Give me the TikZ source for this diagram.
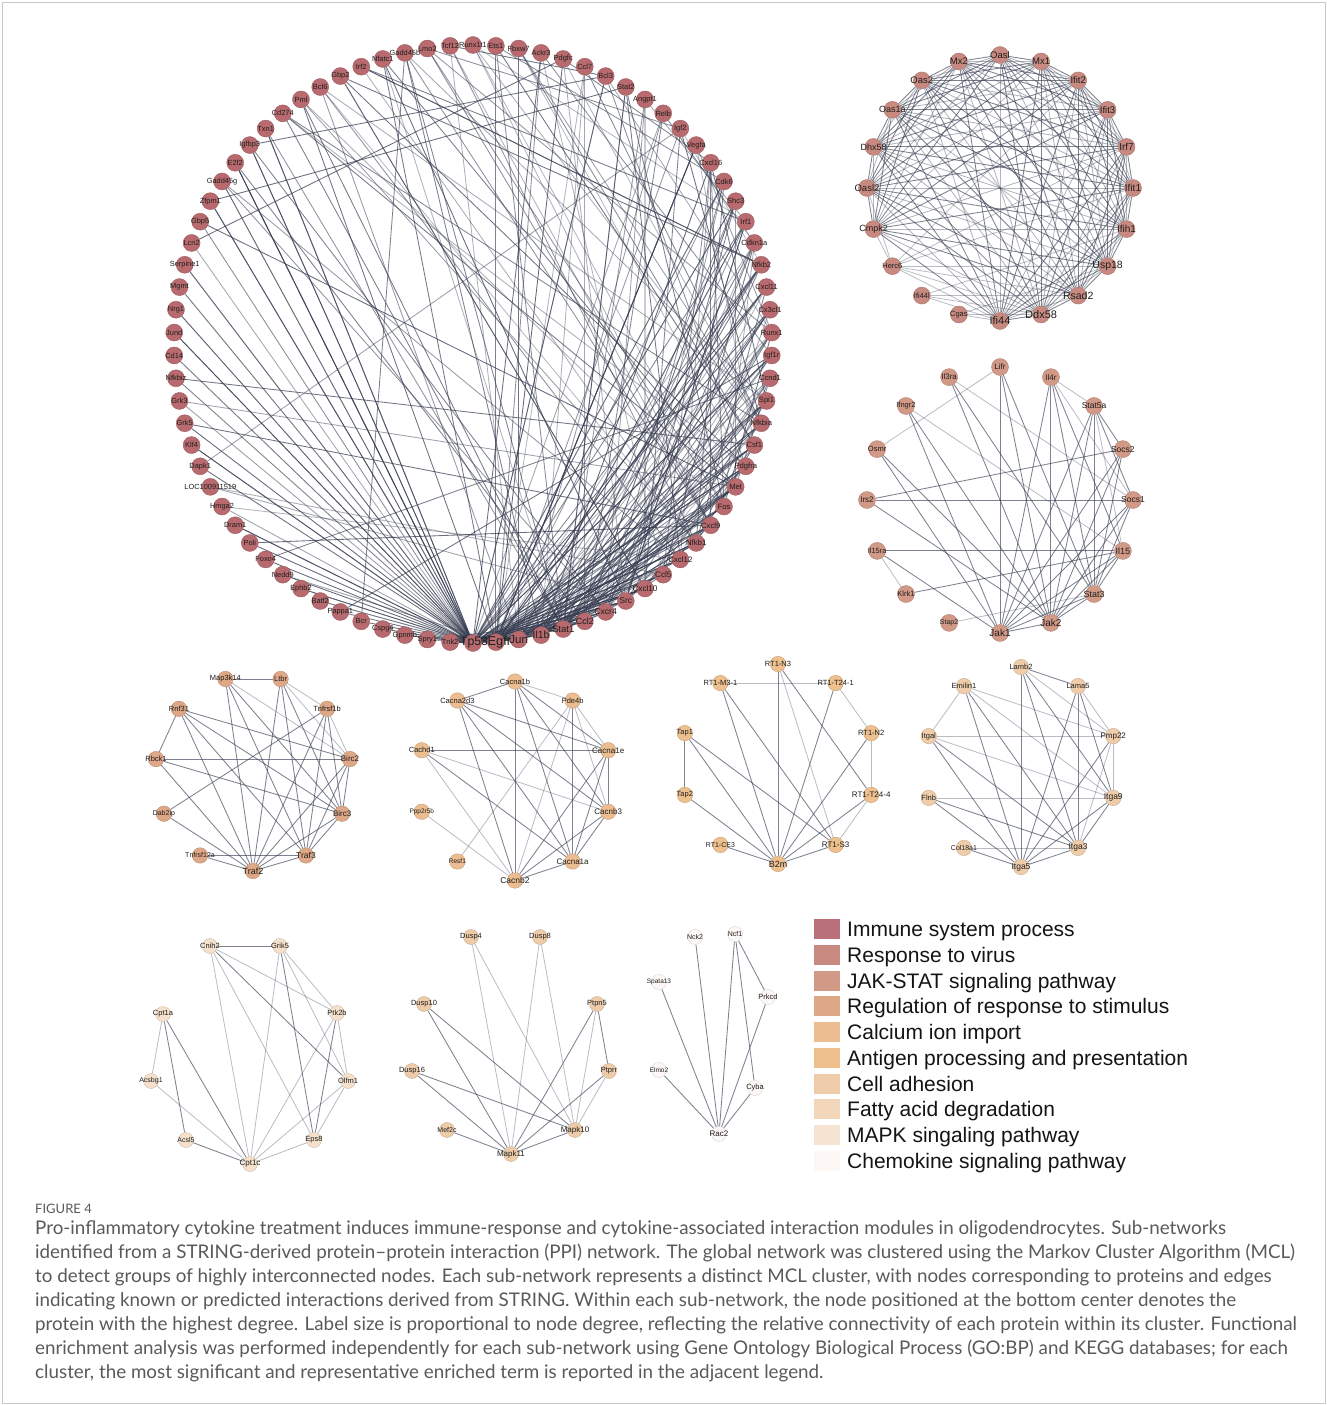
\documentclass[tikz,border=0pt]{standalone}
\usepackage{fontspec}
\setmainfont{Liberation Sans}
\newfontfamily\labf{Liberation Sans}
\newfontfamily\capf{Lato}
\pgfdeclarelayer{bgl}
\pgfdeclarelayer{edges}
\pgfsetlayers{bgl,edges,main}
\definecolor{c1}{RGB}{185,112,122}
\definecolor{c2}{RGB}{200,138,128}
\definecolor{c3}{RGB}{210,153,134}
\definecolor{c4}{RGB}{222,167,134}
\definecolor{c5}{RGB}{236,189,144}
\definecolor{c6}{RGB}{238,192,142}
\definecolor{c7}{RGB}{240,205,170}
\definecolor{c8}{RGB}{243,215,186}
\definecolor{c9}{RGB}{246,228,210}
\definecolor{c10}{RGB}{253,248,245}
\definecolor{nbig}{RGB}{184,106,110}
\definecolor{nfat}{RGB}{245,224,204}
\definecolor{nmapk}{RGB}{238,204,170}
\definecolor{edgec}{RGB}{58,64,84}
\definecolor{capc}{RGB}{90,90,90}
\definecolor{framec}{RGB}{200,200,200}
\begin{document}
\begin{tikzpicture}[x=1pt,y=-1pt,
  nd/.style={circle, fill=#1, draw=#1!82!black, line width=0.35pt, inner sep=0pt},
  lab/.style={text=black!88, inner sep=0pt},
  edge/.style={draw=edgec, line width=0.85pt, draw opacity=0.65},
  ledge/.style={draw=edgec, line width=0.8pt, draw opacity=0.35},
  legtext/.style={anchor=base west, font=\labf\fontsize{21}{21}\selectfont, text=black!92, inner sep=0pt},
  capline/.style={anchor=base west, font=\capf\fontsize{18.8}{18.8}\selectfont, text=capc, inner sep=0pt}
]
\useasboundingbox (0,0) rectangle (1327,1405);
\begin{pgfonlayer}{bgl}
\fill[white] (0,0) rectangle (1327,1405);
\end{pgfonlayer}
\draw[framec, line width=0.8pt] (2.5,2.5) rectangle (1325,1403);

% ---------------- big network (Immune system process) ----------------
\foreach \g [count=\ii from 0] in {Lmo2,Tcf12,Runx1t1,Ets1,Fbxw7,Ackr3,Pdgfc,Ccl7,Bcl3,Stat2,Angpt1,Relb,Igf2,Vegfa,Cxcl16,Cdk6,Shc3,Irf1,Cdkn1a,Nfkb2,Cxcl11,Cx3cl1,Runx1,Igf1r,Ccnd1,Spi1,Nfkbia,Csf1,Pdgfra,Met,Fos,Cxcl9,Nfkb1,Cxcl12,Ccl5,Cxcl10,Src,Cxcr4,Ccl2,Stat1,Il1b,Jun,Egfr,Tp53,Tnk2,Spry1,Gpnmb,Cspg4,Bcr,Pappa1,Batf2,Ephb2,Nedd9,Foxo4,Poli,Dram1,Hmga2,LOC100911519,Dapk1,Klf4,Grk5,Grk3,Nfkbiz,Cd14,Jund,Nrg1,Mgmt,Serpine1,Lcn2,Gbp5,Zfpm1,Gadd45g,E2f2,Igfbp3,Txn1,Cd274,Pml,Bcl6,Gbp2,Irf2,Nfatc1,Gadd45b}{
  \pgfmathsetmacro\ang{-90+(\ii-2)*4.3902439}
  \pgfmathtruncatemacro\rk{mod(125-\ii,82)}
  \pgfmathsetmacro\fs{\rk==0 ? 12.2 : 7.4+6.0*9/(9+\rk*\rk)}
  \pgfmathsetmacro\xs{\rk==0 ? 1 : (\rk==1 ? 3.5 : 0)}
  \node[nd=nbig, minimum size=17, label={[lab, xshift=\xs, font=\labf\fontsize{\fs}{\fs}\selectfont]center:\g}] (b\rk) at ({473+299*cos(\ang)},{344+299*sin(\ang)}) {};
}
\begin{pgfonlayer}{edges}
\pgfmathsetseed{2024}
\foreach \rk in {1,...,81}{
  \pgfmathtruncatemacro\mm{\rk<31 ? 6 : (\rk<56 ? 4 : 2)}
  \pgfmathtruncatemacro\mm{min(\mm,\rk)}
  \foreach \e in {1,...,\mm}{
    \pgfmathsetmacro\uu{rnd}
    \pgfmathtruncatemacro\tg{(\rk>50 && \uu<0.55) ? 0 : floor(rnd*rnd*\rk)}
    \pgfmathsetmacro\op{0.35+0.45*rnd}
    \draw[edge, draw opacity=\op] (b\rk) -- (b\tg);
  }
}
\end{pgfonlayer}

% ---------------- Response to virus ----------------
\foreach \nm/\fs [count=\jj from 0] in {Ifi44/11,Ddx58/11,Rsad2/10.5,Usp18/10.5,Ifih1/10,Ifit1/10,Irf7/10,Ifit3/9.5,Ifit2/9.5,Mx1/9.5,Oasl/9.5,Mx2/9.5,Oas2/9.5,Oas1a/9,Dhx58/9,Oasl2/9.5,Cmpk2/9,Herc6/7.5,Ifi44l/7.5,Cgas/7.5}{
  \pgfmathsetmacro\ang{90-\jj*18}
  \node[nd=c2, minimum size=17, label={[lab, font=\labf\fontsize{\fs}{\fs}\selectfont]center:\nm}] (v\jj) at ({1000+133*cos(\ang)},{188+133*sin(\ang)}) {};
}
\begin{pgfonlayer}{edges}
\foreach \a in {0,...,15}{
  \pgfmathtruncatemacro\aa{\a+1}
  \foreach \b in {\aa,...,16}{
    \pgfmathsetmacro\op{mod(\a*7+\b*3,5)<2 ? 0.38 : 0.65}
    \draw[edge, draw opacity=\op] (v\a) -- (v\b);
  }
}
\foreach \a/\b in {17/0,17/1,17/2,17/3,17/5,17/6,17/8,17/15,17/16,18/0,18/1,18/2,18/4,19/0,19/1,19/3}{
  \draw[ledge] (v\a) -- (v\b);
}
\end{pgfonlayer}

% ---------------- JAK-STAT ----------------
\foreach \nm/\fs [count=\jj from 0] in {Jak1/10,Jak2/10,Stat3/9,Il15/9,Socs1/8.5,Socs2/8.5,Stat5a/8.5,Il4r/8,Lifr/8,Il3ra/8,Ifngr2/7.5,Osmr/7.5,Irs2/8,Il15ra/7.5,Klrk1/7.5,Stap2/7}{
  \pgfmathsetmacro\ang{90-\jj*22.5}
  \node[nd=c3, minimum size=17, label={[lab, font=\labf\fontsize{\fs}{\fs}\selectfont]center:\nm}] (\nm) at ({1000+133*cos(\ang)},{500+133*sin(\ang)}) {};
}
\begin{pgfonlayer}{edges}
\foreach \a/\b in {Lifr/Jak1,Lifr/Jak2,Lifr/Stat3,Il3ra/Jak2,Il3ra/Stat3,Il4r/Jak1,Il4r/Jak2,Il4r/Stat3,Il4r/Il15,Stat5a/Jak1,Stat5a/Jak2,Stat5a/Stat3,Stat5a/Socs2,Stat5a/Socs1,Ifngr2/Jak1,Ifngr2/Jak2,Osmr/Jak1,Osmr/Jak2,Irs2/Socs2,Irs2/Socs1,Irs2/Jak2,Il15ra/Il15,Il15ra/Jak1,Klrk1/Il15,Socs2/Jak1,Socs2/Jak2,Socs2/Stat3,Socs1/Jak1,Socs1/Jak2,Socs1/Stat3,Il15/Jak1,Il15/Jak2,Il15/Stat3,Stat3/Jak1,Stat3/Jak2,Jak1/Jak2}{
  \draw[edge] (\a) -- (\b);
}
\foreach \a/\b in {Lifr/Osmr,Il3ra/Socs1,Ifngr2/Il15,Il4r/Socs1,Il4r/Stat5a,Il15ra/Klrk1,Stap2/Stat3,Stat5a/Il15}{
  \draw[ledge] (\a) -- (\b);
}
\end{pgfonlayer}

% ---------------- Regulation of response to stimulus ----------------
\foreach \nm/\fs [count=\jj from 0] in {Traf2/9,Traf3/8.5,Birc3/8,Birc2/8,Tnfrsf1b/7.5,Ltbr/7.5,Map3k14/7.5,Rnf31/7.5,Rbck1/7.5,Dab2ip/7,Tnfrsf12a/7}{
  \pgfmathsetmacro\ang{90-\jj*32.7272727}
  \node[nd=c4, minimum size=15.5, label={[lab, font=\labf\fontsize{\fs}{\fs}\selectfont]center:\nm}] (\nm) at ({253+98*cos(\ang)},{773+98*sin(\ang)}) {};
}
\begin{pgfonlayer}{edges}
\foreach \a/\b in {Map3k14/Ltbr,Map3k14/Traf2,Map3k14/Traf3,Map3k14/Birc3,Ltbr/Traf2,Ltbr/Traf3,Ltbr/Birc3,Tnfrsf1b/Traf2,Tnfrsf1b/Traf3,Tnfrsf1b/Birc3,Tnfrsf1b/Dab2ip,Rnf31/Rbck1,Rnf31/Birc2,Rnf31/Birc3,Rnf31/Traf2,Rnf31/Traf3,Rbck1/Birc2,Rbck1/Birc3,Rbck1/Traf2,Dab2ip/Traf2,Tnfrsf12a/Traf3,Tnfrsf12a/Traf2,Birc2/Traf2,Birc2/Traf3,Birc2/Birc3,Birc3/Traf2,Birc3/Traf3,Traf2/Traf3}{
  \draw[edge] (\a) -- (\b);
}
\foreach \a/\b in {Map3k14/Birc2,Ltbr/Birc2,Ltbr/Tnfrsf1b,Tnfrsf1b/Birc2}{
  \draw[ledge] (\a) -- (\b);
}
\end{pgfonlayer}

% ---------------- Calcium ion import ----------------
\foreach \nm/\fs [count=\jj from 0] in {Cacnb2/8.5,Cacna1a/8,Cacnb3/8,Cacna1e/8,Pde4b/7.5,Cacna1b/7.5,Cacna2d3/7.5,Cachd1/7.5,Ppp2r5b/6.5,Resf1/6.5}{
  \pgfmathsetmacro\ang{90-\jj*36}
  \node[nd=c5, minimum size=15.5, label={[lab, font=\labf\fontsize{\fs}{\fs}\selectfont]center:\nm}] (\nm) at ({515+98*cos(\ang)},{781+99.5*sin(\ang)}) {};
}
\begin{pgfonlayer}{edges}
\foreach \a/\b in {Cacna1b/Cacna2d3,Cacna1b/Cacnb2,Cacna1b/Cacna1a,Cacna1b/Cacnb3,Cacna1b/Cacna1e,Cacna2d3/Cacna1e,Cacna2d3/Cacnb3,Cacna2d3/Cacna1a,Cacna2d3/Cacnb2,Pde4b/Cacna1a,Cachd1/Cacna1e,Cachd1/Cacna1a,Cacna1e/Cacnb2,Cacna1e/Cacnb3,Cacna1e/Cacna1a,Cacnb3/Cacnb2,Cacnb3/Cacna1a,Cacna1a/Cacnb2}{
  \draw[edge] (\a) -- (\b);
}
\foreach \a/\b in {Cacna1b/Pde4b,Pde4b/Resf1,Pde4b/Cacnb2,Pde4b/Cacnb3,Pde4b/Cacna1e,Cachd1/Cacnb2,Cachd1/Cacnb3,Ppp2r5b/Cacnb2}{
  \draw[ledge] (\a) -- (\b);
}
\end{pgfonlayer}

% ---------------- Antigen processing and presentation ----------------
\foreach \nm/\lb/\fs [count=\jj from 0] in {B2m/B2m/9,rtSiii/RT1-S3/8,rtTiv/RT1-T24-4/8,rtNii/RT1-N2/7.5,rtTi/RT1-T24-1/7.5,rtNiii/RT1-N3/7.5,rtMiii/RT1-M3-1/7.5,Tap1/Tap1/7.5,Tap2/Tap2/7.5,rtCE/RT1-CE3/7}{
  \pgfmathsetmacro\ang{90-\jj*36}
  \node[nd=c6, minimum size=15.5, label={[lab, font=\labf\fontsize{\fs}{\fs}\selectfont]center:\lb}] (\nm) at ({778+98*cos(\ang)},{764+100*sin(\ang)}) {};
}
\begin{pgfonlayer}{edges}
\foreach \a/\b in {rtNiii/B2m,rtNiii/rtTiv,rtMiii/B2m,rtMiii/rtSiii,rtTi/B2m,rtNii/B2m,Tap1/Tap2,Tap1/B2m,Tap1/rtSiii,Tap2/B2m,rtTiv/B2m,rtCE/B2m,rtSiii/B2m}{
  \draw[edge] (\a) -- (\b);
}
\foreach \a/\b in {rtMiii/rtTi,rtNiii/rtSiii,rtTi/rtNii,rtNii/rtTiv,rtTiv/rtSiii}{
  \draw[ledge] (\a) -- (\b);
}
\end{pgfonlayer}

% ---------------- Cell adhesion ----------------
\foreach \nm/\fs [count=\jj from 0] in {Itga5/8.5,Itga3/8.5,Itga9/8.5,Pmp22/8,Lama5/7.5,Lamb2/7.5,Emilin1/7.5,Itgal/7.5,Flnb/7.5,Col18a1/7}{
  \pgfmathsetmacro\ang{90-\jj*36}
  \node[nd=c7, minimum size=15.5, label={[lab, font=\labf\fontsize{\fs}{\fs}\selectfont]center:\nm}] (\nm) at ({1021+97*cos(\ang)},{767+100*sin(\ang)}) {};
}
\begin{pgfonlayer}{edges}
\foreach \a/\b in {Lamb2/Lama5,Lamb2/Itga5,Lamb2/Itga3,Lamb2/Itga9,Emilin1/Itga3,Emilin1/Itga5,Lama5/Itga5,Lama5/Itga3,Lama5/Itga9,Itgal/Itga3,Itgal/Itga5,Pmp22/Itga5,Flnb/Itga3,Flnb/Itga5,Itga9/Itga5,Itga9/Itga3,Itga3/Itga5,Col18a1/Itga5}{
  \draw[edge] (\a) -- (\b);
}
\foreach \a/\b in {Lamb2/Pmp22,Emilin1/Itgal,Emilin1/Pmp22,Emilin1/Itga9,Lama5/Pmp22,Itgal/Pmp22,Itgal/Itga9,Pmp22/Itga9,Pmp22/Itga3,Flnb/Itga9,Col18a1/Itga3}{
  \draw[ledge] (\a) -- (\b);
}
\end{pgfonlayer}

% ---------------- Fatty acid degradation ----------------
\foreach \nm/\fs/\px/\py in {Cpt1c/8/250/1164,Eps8/7.5/314/1140,Olfm1/7.5/348/1081,Ptk2b/7.5/337/1013,Grik5/7.5/280/946,Cnih2/7.5/210/946,Cpt1a/7.5/163/1014,Acsbg1/7/151/1081,Acsl5/7/186/1140}{
  \node[nd=nfat, minimum size=15, label={[lab, font=\labf\fontsize{\fs}{\fs}\selectfont]center:\nm}] (\nm) at (\px,\py) {};
}
\begin{pgfonlayer}{edges}
\foreach \a/\b in {Cnih2/Grik5,Cnih2/Olfm1,Cpt1a/Acsl5,Cpt1a/Cpt1c,Acsl5/Cpt1c,Grik5/Eps8,Ptk2b/Eps8}{
  \draw[edge] (\a) -- (\b);
}
\foreach \a/\b in {Cnih2/Cpt1c,Cnih2/Eps8,Cnih2/Ptk2b,Grik5/Cpt1c,Grik5/Olfm1,Grik5/Ptk2b,Ptk2b/Cpt1c,Ptk2b/Olfm1,Cpt1a/Acsbg1,Acsbg1/Cpt1c,Olfm1/Cpt1c,Olfm1/Eps8,Eps8/Cpt1c}{
  \draw[ledge] (\a) -- (\b);
}
\end{pgfonlayer}

% ---------------- MAPK signaling ----------------
\foreach \nm/\fs/\px/\py in {Mapk11/8/511/1154,Mapk10/8/575/1130,Ptprr/7.5/609/1071,Ptpn5/7.5/597/1004,Dusp8/7.5/540/937,Dusp4/7.5/471/937,Dusp10/7.5/424/1004,Dusp16/7.5/412/1071,Mef2c/7/447/1130}{
  \node[nd=nmapk, minimum size=15, label={[lab, font=\labf\fontsize{\fs}{\fs}\selectfont]center:\nm}] (\nm) at (\px,\py) {};
}
\begin{pgfonlayer}{edges}
\foreach \a/\b in {Dusp10/Mapk11,Dusp10/Mapk10,Dusp16/Mapk10,Dusp16/Mapk11,Ptpn5/Mapk11,Ptpn5/Ptprr,Ptprr/Mapk11,Mapk11/Mapk10,Mef2c/Mapk11}{
  \draw[edge] (\a) -- (\b);
}
\foreach \a/\b in {Dusp4/Mapk11,Dusp4/Mapk10,Dusp8/Mapk11,Dusp8/Mapk10,Ptpn5/Mapk10,Ptprr/Mapk10}{
  \draw[ledge] (\a) -- (\b);
}
\end{pgfonlayer}

% ---------------- Chemokine signaling ----------------
\foreach \nm/\fs/\px/\py in {Rac2/8/719/1134,Cyba/7.5/755/1088,Prkcd/7.5/768/997,Ncf1/7/735/934,Nck2/7/695/937,Spata13/6.5/659/982,Elmo2/6.5/659/1070}{
  \node[nd=c10, minimum size=15, draw=black!18, label={[lab, font=\labf\fontsize{\fs}{\fs}\selectfont]center:\nm}] (\nm) at (\px,\py) {};
}
\begin{pgfonlayer}{edges}
\foreach \a/\b in {Nck2/Rac2,Ncf1/Rac2,Ncf1/Prkcd,Ncf1/Cyba,Spata13/Rac2,Elmo2/Rac2,Prkcd/Rac2,Cyba/Rac2}{
  \draw[edge] (\a) -- (\b);
}
\end{pgfonlayer}

% ---------------- legend ----------------
\foreach \t [count=\k from 1] in {Immune system process,Response to virus,JAK-STAT signaling pathway,Regulation of response to stimulus,Calcium ion import,Antigen processing and presentation,Cell adhesion,Fatty acid degradation,MAPK singaling pathway,Chemokine signaling pathway}{
  \pgfmathsetmacro\yy{929+(\k-1)*25.75}
  \fill[c\k] (814,\yy-10) rectangle (840,\yy+10);
  \node[legtext] (leg\k) at (847,\yy+7.5) {\t};
}

% ---------------- caption ----------------
\node[anchor=base west, font=\capf\fontsize{13}{13}\selectfont, text=capc, inner sep=0pt] (figlab) at (35,1213) {FIGURE 4};
\node[capline] (cap1) at (35,1234) {Pro-inflammatory cytokine treatment induces immune-response and cytokine-associated interaction modules in oligodendrocytes. Sub-networks};
\node[capline] (cap2) at (35,1258) {identified from a STRING-derived protein–protein interaction (PPI) network. The global network was clustered using the Markov Cluster Algorithm (MCL)};
\node[capline] (cap3) at (35,1282) {to detect groups of highly interconnected nodes. Each sub-network represents a distinct MCL cluster, with nodes corresponding to proteins and edges};
\node[capline] (cap4) at (35,1306) {indicating known or predicted interactions derived from STRING. Within each sub-network, the node positioned at the bottom center denotes the};
\node[capline] (cap5) at (35,1330) {protein with the highest degree. Label size is proportional to node degree, reflecting the relative connectivity of each protein within its cluster. Functional};
\node[capline] (cap6) at (35,1354) {enrichment analysis was performed independently for each sub-network using Gene Ontology Biological Process (GO:BP) and KEGG databases; for each};
\node[capline] (cap7) at (35,1378) {cluster, the most significant and representative enriched term is reported in the adjacent legend.};
\end{tikzpicture}
\end{document}
